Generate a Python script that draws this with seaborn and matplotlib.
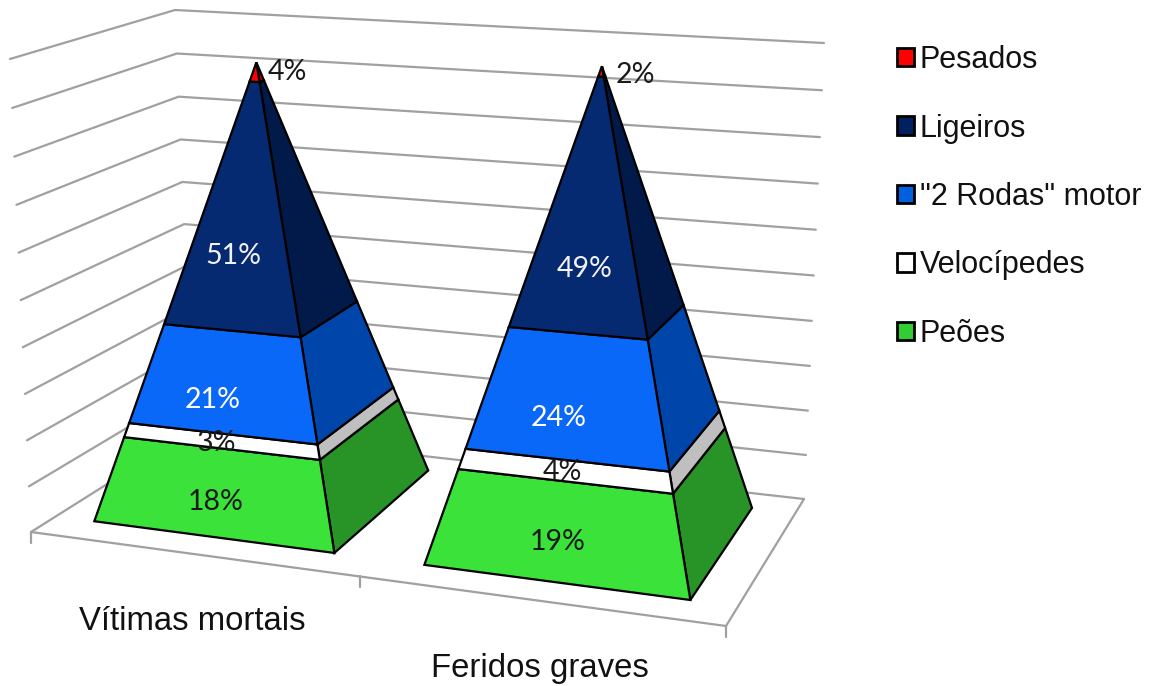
import numpy as np
import pandas as pd
import matplotlib.pyplot as plt
from matplotlib.patches import Patch
import seaborn as sns

# stacked shares, bottom to top of each pyramid
series_names = ["Peões", "Velocípedes", '"2 Rodas" motor', "Ligeiros", "Pesados"]
vitimas_mortais = [18, 3, 21, 51, 4]
feridos_graves = [19, 4, 24, 49, 2]
categories = ["Vítimas mortais", "Feridos graves"]
value_ticks = [0, 10, 20, 30, 40, 50, 60, 70, 80, 90, 100]

front_colors = ["#3AE23A", "#FFFFFF", "#0A68F8", "#062A72", "#FF0000"]
side_colors = ["#289428", "#BFBFBF", "#0046AA", "#021A4A", "#C00000"]
legend_colors = ["#33CC33", "#FFFFFF", "#0060E0", "#002060", "#FF0000"]
label_colors = ["#1A1A1A", "#1A1A1A", "#FFFFFF", "#F2F2F2"]
label_frac = [[0.4, 0.4, 0.33, 0.3], [0.4, 0.45, 0.33, 0.25]]
label_dx = [[-2, -6, -14, -6], [-3, -4, -12, 1]]
tip_offset = [(11, 10), (14, 9)]

# camera: floor corners and the 100% height vector at each corner, in pixels
FL, FR, BR, BL = map(np.array, [(31, 532), (726, 626), (804, 499), (193, 430)])
UP_FL, UP_FR, UP_BR, UP_BL = map(np.array, [(-21, -473), (15, -530), (20, -456), (-18, -420)])
PERSPECTIVE = 1.04

# pyramid footprints on the floor
bar_u = [(0.056, 0.408), (0.54, 0.93)]
bar_d = (0.155, 0.89)
height_scale = [0.985, 1.006]
tick_u = [0, 0.473, 1]
cat_u = [0.236, 0.736]


def project(u, d, h, scale=1.0):
    floor = (1 - d) * ((1 - u) * FL + u * FR) + d * ((1 - u) * BL + u * BR)
    up = (1 - d) * ((1 - u) * UP_FL + u * UP_FR) + d * ((1 - u) * UP_BL + u * UP_BR)
    t = h / 100
    t = t / (t + PERSPECTIVE * (1 - t))
    return floor + up * t * scale


def pyramid_point(i, u, d, h, top):
    # corner (u, d) of the footprint, pulled towards the axis at height h
    uc, dc = np.mean(bar_u[i]), np.mean(bar_d)
    s = 1 - h / top
    return project(uc + s * (u - uc), dc + s * (d - dc), h, height_scale[i])


sns.set_theme(style="white")
fig, ax = plt.subplots(figsize=(11.51, 6.86), dpi=100)
fig.subplots_adjust(left=0, right=1, bottom=0, top=1)

# walls, floor and ticks
rows = []
for h in value_ticks:
    for n, (u, d) in enumerate([(0, 0), (0, 1), (1, 1)]):
        x, y = project(u, d, h)
        rows.append({"line": f"h{h}", "order": n, "x": x, "y": y})
for name, ends in {"front": [(0, 0), (1, 0)], "right": [(1, 0), (1, 1)]}.items():
    for n, (u, d) in enumerate(ends):
        x, y = project(u, d, 0)
        rows.append({"line": name, "order": n, "x": x, "y": y})
for u in tick_u:
    x, y = project(u, 0, 0)
    rows.append({"line": f"t{u}", "order": 0, "x": x, "y": y})
    rows.append({"line": f"t{u}", "order": 1, "x": x, "y": y + 11})
grid_df = pd.DataFrame(rows)
sns.lineplot(data=grid_df, x="x", y="y", units="line", estimator=None, sort=False,
             color="#A0A0A0", linewidth=1.6, ax=ax, zorder=1)

# pyramids
for i, values in enumerate([vitimas_mortais, feridos_graves]):
    top = sum(values)
    levels = np.concatenate([[0], np.cumsum(values)])
    u0, u1 = bar_u[i]
    d0, d1 = bar_d
    for j in range(len(values)):
        lo, hi = levels[j], levels[j + 1]
        front = [pyramid_point(i, u0, d0, lo, top), pyramid_point(i, u1, d0, lo, top),
                 pyramid_point(i, u1, d0, hi, top), pyramid_point(i, u0, d0, hi, top)]
        side = [pyramid_point(i, u1, d0, lo, top), pyramid_point(i, u1, d1, lo, top),
                pyramid_point(i, u1, d1, hi, top), pyramid_point(i, u1, d0, hi, top)]
        ax.fill(*zip(*side), facecolor=side_colors[j], edgecolor="black", linewidth=1.6, zorder=3)
        ax.fill(*zip(*front), facecolor=front_colors[j], edgecolor="black", linewidth=1.6, zorder=3)

        if j < len(values) - 1:
            h = lo + label_frac[i][j] * values[j]
            x, y = pyramid_point(i, np.mean(bar_u[i]), d0, h, top)
            ax.text(x + label_dx[i][j], y, f"{values[j]}%", color=label_colors[j], fontsize=20.5,
                    family="Lato", ha="center", va="center", zorder=5)
    # smallest slice is labelled beside the tip
    x, y = pyramid_point(i, np.mean(bar_u[i]), d0, top, top)
    ax.text(x + tip_offset[i][0], y + tip_offset[i][1], f"{values[-1]}%", color="#1A1A1A",
            fontsize=20.5, family="Lato", ha="left", va="center", zorder=5)

for u, name in zip(cat_u, categories):
    x, y = project(u, 0, 0)
    ax.text(x - 3, y + 67, name, fontsize=23.7, family="Liberation Sans", color="#111111",
            ha="center", va="center")

handles = [Patch(facecolor=c, edgecolor="black", linewidth=2, label=n)
           for c, n in zip(legend_colors, series_names)][::-1]
ax.legend(handles=handles, loc="upper left", bbox_to_anchor=(897, 45), bbox_transform=ax.transData,
          frameon=False, borderpad=0, borderaxespad=0, handlelength=0.55, handleheight=0.55,
          handletextpad=0.2, labelspacing=1.26, labelcolor="#111111",
          prop={"family": "Liberation Sans", "size": 22})

ax.set_xlim(0, 1151)
ax.set_ylim(686, 0)
ax.axis("off")
fig.savefig("out.png", dpi=100)
